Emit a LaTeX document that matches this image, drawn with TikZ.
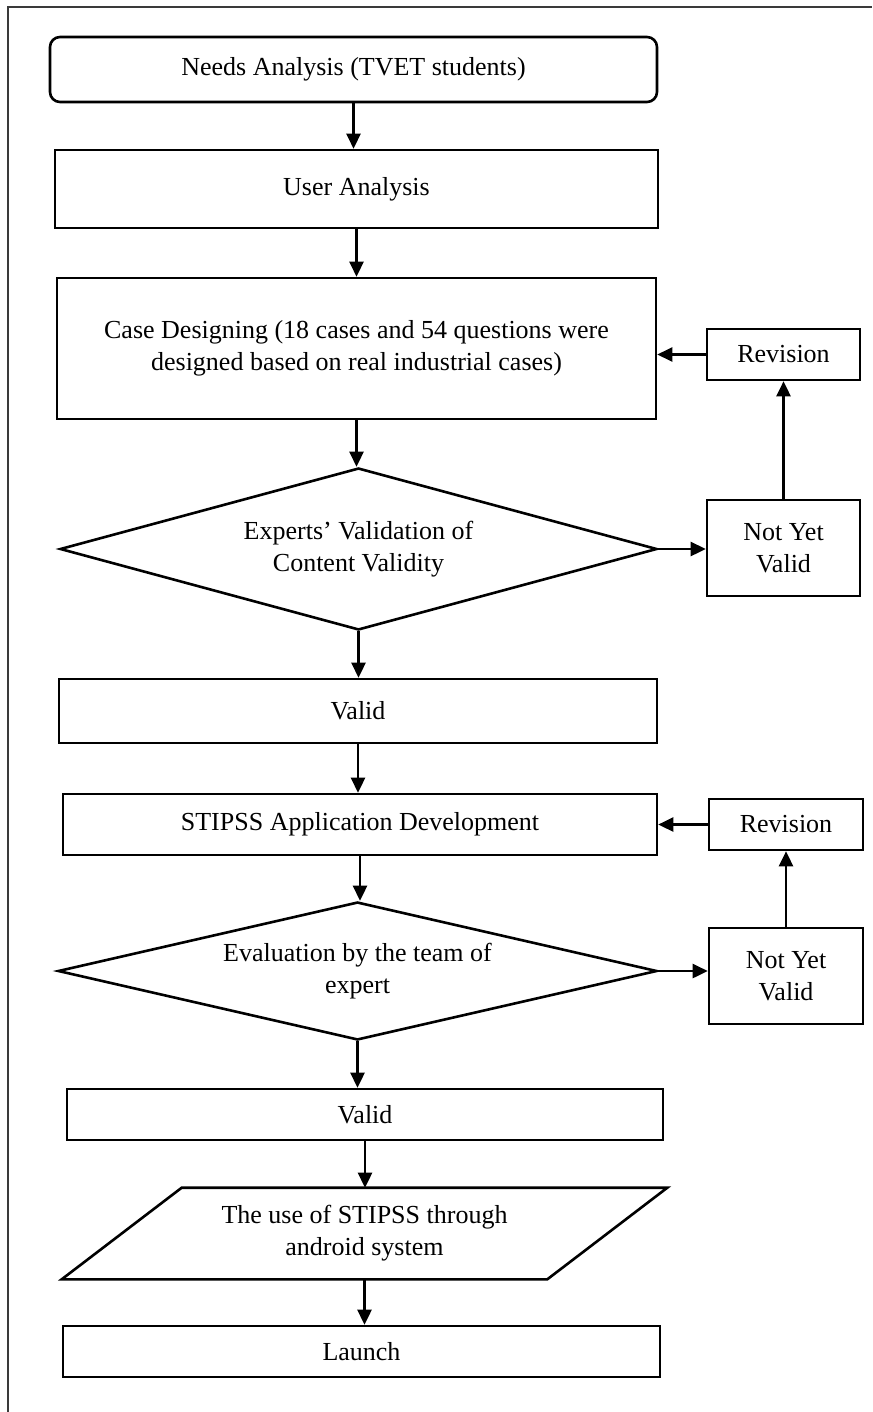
\documentclass[tikz,border=0pt]{standalone}
\usepackage{fontspec}
\setmainfont{Liberation Serif}
\usetikzlibrary{shapes.geometric,arrows.meta}
\definecolor{framecolor}{HTML}{3A3A3A}
\tikzstyle{flowbox} = [
    draw,
    rectangle,
    line width=1.3pt,
    align=center,
    inner sep=0pt,
    font=\fontsize{13}{16}\selectfont
    ]
\tikzstyle{startbox} = [
    flowbox,
    rounded corners=5pt
    ]
\tikzstyle{decision} = [
    flowbox,
    diamond
    ]
\tikzstyle{iobox} = [
    flowbox,
    draw=none
    ]
\tikzstyle{flowarrow} = [
    line width=1.3pt,
    -{Triangle[length=7.5pt,width=7pt]}
    ]

\begin{document}
\begin{tikzpicture}[x=0.5pt,y=-0.5pt]
\useasboundingbox (0,0) rectangle (872,1412);
\draw[framecolor, line width=0.8pt] (8,1412) -- (8,7) -- (872,7);

% main column
\node[startbox, minimum width=303.5pt, minimum height=32.5pt] (needs) at (353.5,69.5) {Needs Analysis (TVET students)};
\node[flowbox, minimum width=301.5pt, minimum height=39pt] (user) at (356.5,189) {User Analysis};
\node[flowbox, minimum width=299.5pt, minimum height=70.5pt] (casedes) at (356.5,348.5)
    {Case Designing (18 cases and 54 questions were\\designed based on real industrial cases)};
\node[decision, aspect=3.7, minimum width=298.5pt, minimum height=81pt] (checka) at (358.5,549)
    {Experts' Validation of\\Content Validity};
\node[flowbox, minimum width=299pt, minimum height=32pt] (valida) at (358,711) {Valid};
\node[flowbox, minimum width=297pt, minimum height=30.5pt] (stipss) at (360,824.5) {STIPSS Application Development};
\node[decision, aspect=4.3, minimum width=299.5pt, minimum height=69pt] (checkb) at (357.5,971)
    {Evaluation by the team of\\expert};
\node[flowbox, minimum width=298pt, minimum height=25.5pt] (validb) at (365,1114.5) {Valid};
\node[iobox, minimum width=301.5pt, minimum height=44.5pt] (useapp) at (364.5,1233.5)
    {The use of STIPSS through\\android system};
\draw[line width=1.3pt] ([xshift=60pt]useapp.north west) -- (useapp.north east)
    -- ([xshift=-60pt]useapp.south east) -- (useapp.south west) -- cycle;
\node[flowbox, minimum width=298.5pt, minimum height=25.5pt] (launch) at (361.5,1351.5) {Launch};

% side loops
\node[flowbox, minimum width=76.5pt, minimum height=25.5pt] (reva) at (783.5,354.5) {Revision};
\node[flowbox, minimum width=76.5pt, minimum height=48pt] (notyeta) at (783.5,548) {Not Yet\\Valid};
\node[flowbox, minimum width=77pt, minimum height=25.5pt] (revb) at (786,824.5) {Revision};
\node[flowbox, minimum width=77pt, minimum height=48pt] (notyetb) at (786,976) {Not Yet\\Valid};

\draw[flowarrow] (needs.south) -- (needs.south |- user.north);
\draw[flowarrow] (user.south) -- (user.south |- casedes.north);
\draw[flowarrow] (casedes.south) -- (casedes.south |- checka.north);
\draw[flowarrow] (checka.south) -- (checka.south |- valida.north);
\draw[flowarrow] (valida.south) -- (valida.south |- stipss.north);
\draw[flowarrow] (stipss.south) -- (stipss.south |- checkb.north);
\draw[flowarrow] (checkb.south) -- (checkb.south |- validb.north);
\draw[flowarrow] (validb.south) -- (validb.south |- useapp.north);
\draw[flowarrow] (useapp.south) -- (useapp.south |- launch.north);

\draw[flowarrow] (checka.east) -- (checka.east -| notyeta.west);
\draw[flowarrow] (notyeta.north) -- (reva.south);
\draw[flowarrow] (reva.west) -- (reva.west -| casedes.east);
\draw[flowarrow] (checkb.east) -- (checkb.east -| notyetb.west);
\draw[flowarrow] (notyetb.north) -- (revb.south);
\draw[flowarrow] (revb.west) -- (revb.west -| stipss.east);
\end{tikzpicture}
\end{document}
